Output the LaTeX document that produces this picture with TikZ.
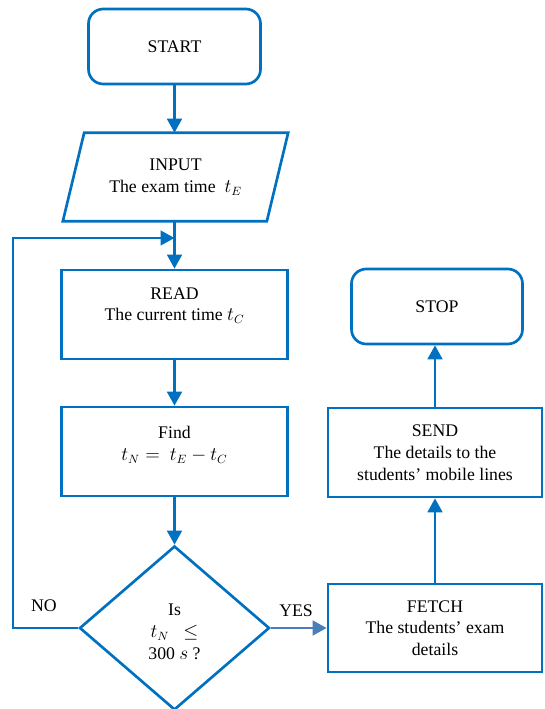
\documentclass[tikz,border=0pt]{standalone}
\usepackage{fontspec}
\setmainfont{Liberation Serif}
\usetikzlibrary{shapes.geometric,arrows.meta}
\definecolor{fblue}{HTML}{0070C0}
\definecolor{fblue2}{HTML}{4A7EBB}
\begin{document}
\begin{tikzpicture}[x=0.75pt,y=-0.75pt,
  every node/.style={font=\fontsize{13.3}{16.3}\selectfont, text=black},
  box/.style={draw=fblue, line width=2pt, rectangle, inner sep=0pt, align=center},
  rbox/.style={box, rounded corners=11pt},
  ln/.style={draw=fblue, line width=2pt},
  arr/.style={draw=fblue, line width=2pt, -{Triangle[length=10.5pt,width=11pt]}},
  lbl/.style={align=center, inner sep=0pt}]
\useasboundingbox (0,0) rectangle (544,709);

% nodes
\node[rbox, minimum width=129pt, minimum height=56.25pt] (start) at (174.5,46.5) {START};
\node[lbl, minimum width=152.6pt, minimum height=66pt] (input) at (175.5,177) {INPUT\\The exam time \ $t_E$};
\draw[ln] ([xshift=-8pt]input.south west) -- ([xshift=8pt]input.north west)
  -- ([xshift=8pt]input.north east) -- ([xshift=-8pt]input.south east) -- cycle;

\node[box, minimum width=169.5pt, minimum height=66.75pt] (read) at (174.5,314.5) {};
\node[lbl] (readt) at (174.5,305.5) {READ\\The current time $t_C$};

\node[box, minimum width=169.5pt, minimum height=66.75pt] (find) at (174.5,451.5) {};
\node[lbl] (findt) at (174.5,445) {Find\\$t_N = \ t_E - t_C$};

\node[draw=fblue, line width=2pt, diamond, minimum width=142.5pt, minimum height=123pt, inner sep=0pt] (dec) at (174.5,628) {};
\node[lbl] (dect) at (174.5,632) {Is\\$t_N\ \ \leq$\\300 $s$ ?};

\node[box, minimum width=160.5pt, minimum height=66pt] (fetch) at (435,628) {FETCH\\The students’ exam\\details};
\node[box, minimum width=160.5pt, minimum height=66.75pt] (send) at (435,452.5) {SEND\\The details to the\\students’ mobile lines};
\node[rbox, minimum width=128.25pt, minimum height=56.25pt] (stop) at (437,306.5) {STOP};

\node (no) at (44,606) {NO};
\node (yes) at (296,611) {YES};

\coordinate (lp) at (13,238);
\coordinate (join) at (174.5,238);

% connectors
\draw[arr] (start.south) -- (start.south |- input.north);
\draw[arr] (start.south |- input.south) -- (read.north);
\draw[arr] (read.south) -- (find.north);
\draw[arr] (find.south) -- (dec.north);
\draw[arr] (dec.west) -| (lp) -- (join);
\draw[arr, draw=fblue2] (dec.east) -- (fetch.west);
\draw[arr] (fetch.north) -- (send.south);
\draw[arr] (send.north) -- (send.north |- stop.south);
\end{tikzpicture}
\end{document}
